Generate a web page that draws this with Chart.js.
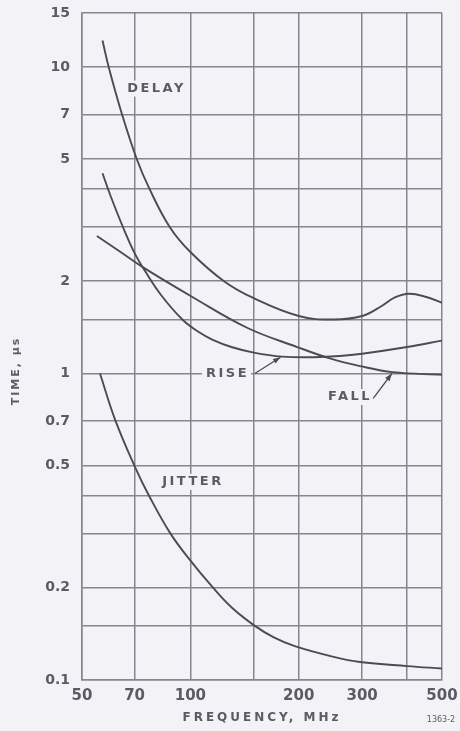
<!DOCTYPE html>
<html>
<head>
<meta charset="utf-8">
<script src="https://cdn.jsdelivr.net/npm/chart.js"></script>
<style>
  html, body { margin: 0; padding: 0; background: #f3f3f7; }
  #caja { width: 460px; height: 731px; }
</style>
</head>
<body>
<div id="caja"><canvas id="myChart"></canvas></div>
<script>
// values: frequency in MHz, time in microseconds
var delayFreq = [57, 59.3, 64.6, 71, 77, 87.7, 100, 124, 150, 200, 250, 300, 340, 370, 405, 450, 500];
var delayTime = [12.2, 10, 7.0, 5.0, 4.0, 3.0, 2.49, 2.0, 1.76, 1.54, 1.50, 1.54, 1.66, 1.77, 1.82, 1.78, 1.70];

var riseFreq = [57, 60, 65, 70, 75, 83, 95, 105, 115, 130, 150, 180, 220, 260, 300, 400, 500];
var riseTime = [4.5, 3.8, 3.0, 2.47, 2.15, 1.8, 1.5, 1.37, 1.29, 1.22, 1.17, 1.135, 1.13, 1.14, 1.16, 1.22, 1.28];

var fallFreq = [55, 63.4, 74.3, 101, 143.7, 198, 244, 296, 365, 500];
var fallTime = [2.81, 2.51, 2.21, 1.78, 1.41, 1.22, 1.12, 1.057, 1.01, 0.99];

var jitterFreq = [56.1, 61.7, 70.2, 76.7, 87.8, 99.8, 115.6, 130.5, 150, 170, 195, 250, 296, 400, 500];
var jitterTime = [1.0, 0.71, 0.495, 0.40, 0.302, 0.246, 0.2, 0.172, 0.151, 0.138, 0.129, 0.119, 0.1145, 0.111, 0.109];

// grid lines and which of them carry a label
var xGrid = [50, 70, 100, 150, 200, 300, 400, 500];
var xLabels = [50, 70, 100, 200, 300, 500];
var yGrid = [0.1, 0.15, 0.2, 0.3, 0.4, 0.5, 0.7, 1, 1.5, 2, 3, 4, 5, 7, 10, 15];
var yLabels = [0.1, 0.2, 0.5, 0.7, 1, 2, 5, 7, 10, 15];

var fondo = "#f3f3f7";
var tinta = "#4b4b57";
var rejilla = "#85858e";
var letras = "#5b5b66";

function puntos(xs, ys) {
    var out = [];
    for (var i = 0; i < xs.length; i++) {
        out.push({ x: xs[i], y: ys[i] });
    }
    return out;
}

function serie(nombre, xs, ys) {
    return {
        label: nombre,
        data: puntos(xs, ys),
        borderColor: tinta,
        borderWidth: 1.9,
        pointRadius: 0,
        tension: 0.4,
        fill: false
    };
}

// curve names, with an arrow where the figure has one
var notas = [
    { texto: "DELAY", x: 80, y: 8.5 },
    { texto: "RISE", x: 126, y: 1.0, desde: [151, 1.0], hasta: [178, 1.13] },
    { texto: "FALL", x: 276, y: 0.838, desde: [322, 0.83], hasta: [363, 1.0] },
    { texto: "JITTER", x: 101, y: 0.443 }
];

var pintaFondo = {
    id: "pintaFondo",
    beforeDraw: function (chart) {
        var ctx = chart.ctx;
        ctx.save();
        ctx.fillStyle = fondo;
        ctx.fillRect(0, 0, chart.width, chart.height);
        ctx.restore();
    }
};

function flecha(ctx, x1, y1, x2, y2) {
    var ang = Math.atan2(y2 - y1, x2 - x1);
    ctx.beginPath();
    ctx.moveTo(x1, y1);
    ctx.lineTo(x2, y2);
    ctx.stroke();
    ctx.beginPath();
    ctx.moveTo(x2, y2);
    ctx.lineTo(x2 - 8 * Math.cos(ang - 0.35), y2 - 8 * Math.sin(ang - 0.35));
    ctx.lineTo(x2 - 8 * Math.cos(ang + 0.35), y2 - 8 * Math.sin(ang + 0.35));
    ctx.closePath();
    ctx.fill();
}

var textos = {
    id: "textos",
    afterDraw: function (chart) {
        var ctx = chart.ctx;
        var sx = chart.scales.x, sy = chart.scales.y;
        ctx.save();
        ctx.textAlign = "center";
        ctx.textBaseline = "middle";

        ctx.font = "bold 13px 'DejaVu Sans'";
        ctx.letterSpacing = "2.5px";
        notas.forEach(function (n) {
            var px = sx.getPixelForValue(n.x), py = sy.getPixelForValue(n.y);
            var w = ctx.measureText(n.texto).width;
            ctx.fillStyle = fondo;
            ctx.fillRect(px - w / 2 - 3, py - 8, w + 6, 16);
            ctx.fillStyle = letras;
            ctx.fillText(n.texto, px + 1, py);
            if (n.desde) {
                ctx.strokeStyle = tinta;
                ctx.fillStyle = tinta;
                ctx.lineWidth = 1.3;
                flecha(ctx, sx.getPixelForValue(n.desde[0]), sy.getPixelForValue(n.desde[1]),
                    sx.getPixelForValue(n.hasta[0]), sy.getPixelForValue(n.hasta[1]));
            }
        });

        // axis titles
        ctx.fillStyle = letras;
        ctx.font = "bold 12px 'DejaVu Sans'";
        ctx.letterSpacing = "3px";
        ctx.fillText("FREQUENCY, MHz", 262, 718);

        ctx.save();
        ctx.translate(16, 371);
        ctx.rotate(-Math.PI / 2);
        ctx.font = "bold 11px 'DejaVu Sans'";
        ctx.letterSpacing = "2px";
        ctx.fillText("TIME, \u00b5s", 0, 0);
        ctx.restore();

        ctx.font = "8px 'DejaVu Sans'";
        ctx.letterSpacing = "0px";
        ctx.fillText("1363-2", 441, 720);
        ctx.restore();
    }
};

new Chart("myChart", {
    type: "line",
    data: {
        datasets: [
            serie("DELAY", delayFreq, delayTime),
            serie("RISE", riseFreq, riseTime),
            serie("FALL", fallFreq, fallTime),
            serie("JITTER", jitterFreq, jitterTime)
        ]
    },
    options: {
        responsive: true,
        maintainAspectRatio: false,
        animation: false,
        layout: { padding: { left: 0, top: 13, right: 18, bottom: 0 } },
        plugins: {
            legend: { display: false },
            tooltip: { enabled: false }
        },
        scales: {
            x: {
                type: "logarithmic",
                min: 50,
                max: 500,
                afterBuildTicks: function (axis) {
                    axis.ticks = xGrid.map(function (v) { return { value: v }; });
                },
                afterFit: function (axis) {
                    axis.height = 51;
                    axis.paddingLeft = 0;
                    axis.paddingRight = 0;
                },
                ticks: {
                    autoSkip: false,
                    maxRotation: 0,
                    padding: 7,
                    color: letras,
                    font: { family: "DejaVu Sans", weight: "bold", size: 15 },
                    callback: function (v) { return xLabels.indexOf(v) >= 0 ? String(v) : ""; }
                },
                grid: { color: rejilla, lineWidth: 1.5, drawTicks: false },
                border: { color: rejilla, width: 1.5 }
            },
            y: {
                type: "logarithmic",
                min: 0.1,
                max: 15,
                afterBuildTicks: function (axis) {
                    axis.ticks = yGrid.map(function (v) { return { value: v }; });
                },
                afterFit: function (axis) {
                    axis.width = 82;
                    axis.paddingTop = 0;
                    axis.paddingBottom = 0;
                },
                ticks: {
                    autoSkip: false,
                    padding: 12,
                    color: letras,
                    font: { family: "DejaVu Sans", weight: "bold", size: 14 },
                    callback: function (v) { return yLabels.indexOf(v) >= 0 ? String(v) : ""; }
                },
                grid: { color: rejilla, lineWidth: 1.5, drawTicks: false },
                border: { color: rejilla, width: 1.5 }
            }
        }
    },
    plugins: [pintaFondo, textos]
});
</script>
</body>
</html>
